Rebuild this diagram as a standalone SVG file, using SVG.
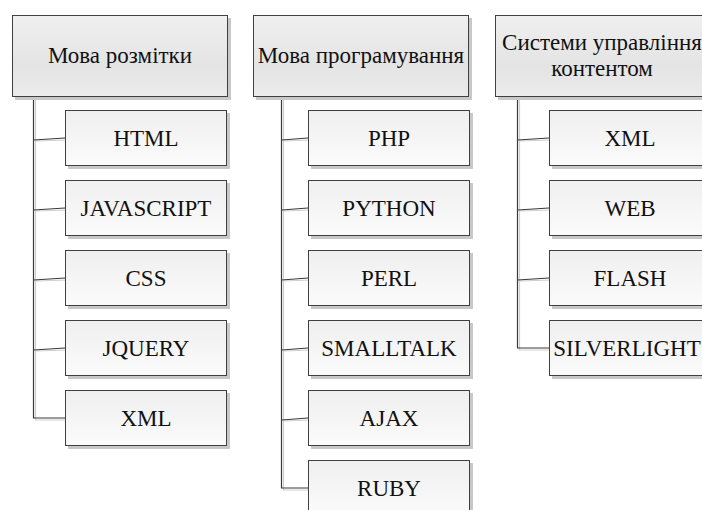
<svg xmlns="http://www.w3.org/2000/svg" width="702" height="510" viewBox="0 0 702 510">
<defs>
<linearGradient id="gh" x1="0" y1="0" x2="0" y2="1">
<stop offset="0" stop-color="#f0f0f0"/>
<stop offset="0.6" stop-color="#e4e4e4"/>
<stop offset="1" stop-color="#ebebeb"/>
</linearGradient>
<linearGradient id="gc" x1="0" y1="0" x2="0" y2="1">
<stop offset="0" stop-color="#efefef"/>
<stop offset="1" stop-color="#fbfbfb"/>
</linearGradient>
</defs>
<style>
.sh{fill:#c8c8c8}
.hd{fill:url(#gh);stroke:#404040;stroke-width:1}
.ch{fill:url(#gc);stroke:#404040;stroke-width:1}
.t{font-family:'Liberation Serif','DejaVu Serif',serif;font-size:23px;fill:#111;text-anchor:middle}
.ln{fill:none;stroke:#3a3a3a;stroke-width:1.2}
.lt{fill:none;stroke:#cfcfcf;stroke-width:1.2}
</style>
<rect width="702" height="510" fill="#ffffff"/>
<g id="connectors">
<path class="lt" d="M35.5 98 V420 H66"/>
<path class="lt" d="M35.5 141 L68 140 M35.5 211 L68 210 M35.5 281 L68 280 M35.5 351 L68 350"/>
<path class="ln" d="M33.5 97 V418 H65"/>
<path class="ln" d="M33.5 140 L65 138 M33.5 210 L65 208 M33.5 280 L65 278 M33.5 350 L65 348"/>
<path class="lt" d="M283.5 98 V490 H310"/>
<path class="lt" d="M283.5 141 L311 140 M283.5 211 L311 210 M283.5 281 L311 280 M283.5 351 L311 350 M283.5 421 L311 420"/>
<path class="ln" d="M281.5 97 V488 H308"/>
<path class="ln" d="M281.5 140 L308 138 M281.5 210 L308 208 M281.5 280 L308 278 M281.5 350 L308 348 M281.5 420 L308 418"/>
<path class="lt" d="M519.5 98 V350 H552"/>
<path class="lt" d="M519.5 141 L552 140 M519.5 211 L552 210 M519.5 281 L552 280"/>
<path class="ln" d="M517.5 97 V348 H549" stroke="#777"/>
<path class="ln" d="M517.5 140 L549 138 M517.5 210 L549 208 M517.5 280 L549 278" stroke="#777"/>
</g>
<g id="h1"><rect class="sh" x="15" y="18" width="216" height="82"/><rect class="hd" x="12.5" y="15.5" width="215" height="81"/><text class="t" x="120" y="63">Мова розмітки</text></g>
<g id="h2"><rect class="sh" x="256" y="18" width="216" height="82"/><rect class="hd" x="253.5" y="15.5" width="215" height="81"/><text class="t" x="361" y="63">Мова програмування</text></g>
<g id="h3"><rect class="sh" x="498" y="18" width="216" height="82"/><rect class="hd" x="495.5" y="15.5" width="215" height="81"/><text class="t" x="602" y="50">Системи управління</text><text class="t" x="602" y="76">контентом</text></g>
<g id="c1a"><rect class="sh" x="68" y="113" width="162" height="56"/><rect class="ch" x="65.5" y="110.5" width="161" height="55"/><text class="t" x="146" y="146">HTML</text></g>
<g id="c1b"><rect class="sh" x="68" y="183" width="162" height="56"/><rect class="ch" x="65.5" y="180.5" width="161" height="55"/><text class="t" x="146" y="216">JAVASCRIPT</text></g>
<g id="c1c"><rect class="sh" x="68" y="253" width="162" height="56"/><rect class="ch" x="65.5" y="250.5" width="161" height="55"/><text class="t" x="146" y="286">CSS</text></g>
<g id="c1d"><rect class="sh" x="68" y="323" width="162" height="56"/><rect class="ch" x="65.5" y="320.5" width="161" height="55"/><text class="t" x="146" y="356">JQUERY</text></g>
<g id="c1e"><rect class="sh" x="68" y="393" width="162" height="56"/><rect class="ch" x="65.5" y="390.5" width="161" height="55"/><text class="t" x="146" y="426">XML</text></g>
<g id="c2a"><rect class="sh" x="311" y="113" width="162" height="56"/><rect class="ch" x="308.5" y="110.5" width="161" height="55"/><text class="t" x="389" y="146">PHP</text></g>
<g id="c2b"><rect class="sh" x="311" y="183" width="162" height="56"/><rect class="ch" x="308.5" y="180.5" width="161" height="55"/><text class="t" x="389" y="216">PYTHON</text></g>
<g id="c2c"><rect class="sh" x="311" y="253" width="162" height="56"/><rect class="ch" x="308.5" y="250.5" width="161" height="55"/><text class="t" x="389" y="286">PERL</text></g>
<g id="c2d"><rect class="sh" x="311" y="323" width="162" height="56"/><rect class="ch" x="308.5" y="320.5" width="161" height="55"/><text class="t" x="389" y="356">SMALLTALK</text></g>
<g id="c2e"><rect class="sh" x="311" y="393" width="162" height="56"/><rect class="ch" x="308.5" y="390.5" width="161" height="55"/><text class="t" x="389" y="426">AJAX</text></g>
<g id="c2f"><rect class="sh" x="311" y="463" width="162" height="56"/><rect class="ch" x="308.5" y="460.5" width="161" height="55"/><text class="t" x="389" y="496">RUBY</text></g>
<g id="c3a"><rect class="sh" x="552" y="113" width="162" height="56"/><rect class="ch" x="549.5" y="110.5" width="161" height="55"/><text class="t" x="630" y="146">XML</text></g>
<g id="c3b"><rect class="sh" x="552" y="183" width="162" height="56"/><rect class="ch" x="549.5" y="180.5" width="161" height="55"/><text class="t" x="630" y="216">WEB</text></g>
<g id="c3c"><rect class="sh" x="552" y="253" width="162" height="56"/><rect class="ch" x="549.5" y="250.5" width="161" height="55"/><text class="t" x="630" y="286">FLASH</text></g>
<g id="c3d"><rect class="sh" x="552" y="323" width="162" height="56"/><rect class="ch" x="549.5" y="320.5" width="161" height="55"/><text class="t" x="627" y="356">SILVERLIGHT</text></g>
</svg>
